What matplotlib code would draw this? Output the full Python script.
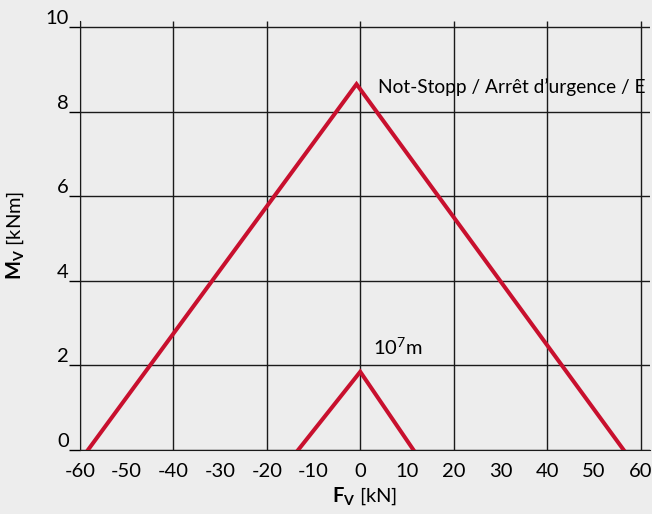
import matplotlib.pyplot as plt

# Data
big_x = [-58.3, -0.8, 56.4]
big_y = [0.0, 8.65, 0.0]
small_x = [-13.3, 0.0, 11.4]
small_y = [0.0, 1.85, 0.0]

x_labels = [-60, -50, -40, -30, -20, -10, 0, 10, 20, 30, 40, 50, 60]
x_grid = [-60, -40, -20, 0, 20, 40, 60]
x_small_ticks = [-50, -30, 10, 30, 50]
y_ticks = [0, 2, 4, 6, 8, 10]

bg = "#ededed"
red = "#c8102e"
fs = 14.5

plt.rcParams["font.family"] = ["Lato", "DejaVu Sans"]
plt.rcParams["mathtext.fontset"] = "custom"
plt.rcParams["mathtext.rm"] = "Lato"
plt.rcParams["mathtext.bf"] = "Lato:bold"

fig = plt.figure(figsize=(6.52, 5.14), dpi=100, facecolor=bg)
ax = fig.add_axes([0.1227, 0.1245, 0.874, 0.8352], facecolor=bg)

ax.set_xlim(-60, 62)
ax.set_ylim(0, 10.15)

# grid
ax.vlines(x_grid, 0, 1, transform=ax.get_xaxis_transform(), color="#1a1a1a", lw=1.0, zorder=1)
ax.set_yticks(y_ticks)
ax.yaxis.grid(True, color="#1a1a1a", lw=1.0)
ax.set_axisbelow(True)

# curves
ax.plot(big_x, big_y, color=red, lw=2.9, solid_joinstyle="miter", zorder=3)
ax.plot(small_x, small_y, color=red, lw=2.9, solid_joinstyle="miter", zorder=3)

# annotations (the reference cuts this label at the right edge)
ax.text(3.9, 8.45, "Not-Stopp / Arrêt d’urgence / E", fontsize=13.8,
        clip_on=False, va="baseline")
ax.text(2.8, 2.25, r"10$^{7}$m", fontsize=fs, va="baseline")

# ticks
ax.set_xticks(x_labels)
ax.set_xticklabels([str(v) for v in x_labels], fontsize=fs)
ax.tick_params(axis="x", which="major", length=0, pad=9)
ax.set_xticks(x_small_ticks, minor=True)
ax.tick_params(axis="x", which="minor", direction="in", length=10, width=1.2, color="#333333")
ax.set_yticklabels([str(v) for v in y_ticks], fontsize=fs)
ax.tick_params(axis="y", length=8, width=1.0, pad=0)
for lbl in ax.get_yticklabels():
    lbl.set_verticalalignment("bottom")

for s in ["top", "right"]:
    ax.spines[s].set_visible(False)
ax.spines["left"].set_color("#1a1a1a")
ax.spines["bottom"].set_color("#1a1a1a")

ax.set_xlabel(r"$\mathbf{F}_\mathbf{V}$ [kN]", fontsize=fs, labelpad=4)
ax.set_ylabel(r"$\mathbf{M}_\mathbf{V}$ [kNm]", fontsize=fs, labelpad=14)

fig.savefig("out.png", dpi=100, facecolor=bg)
